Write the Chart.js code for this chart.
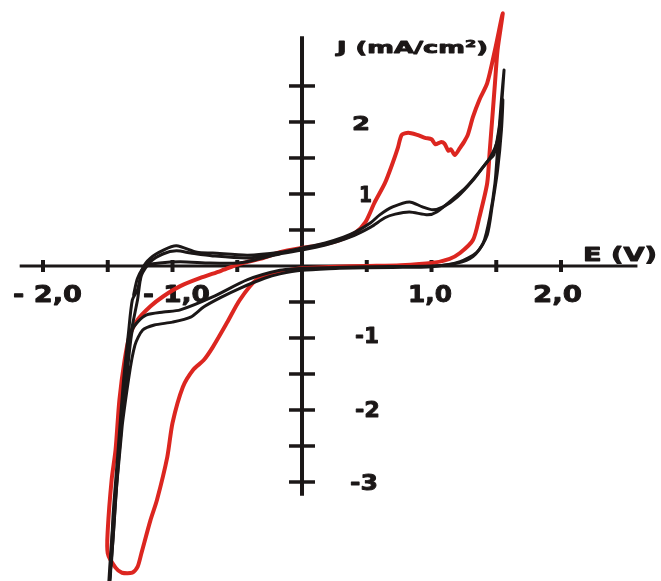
<!DOCTYPE html>
<html>
<head>
<meta charset="utf-8">
<script src="https://cdn.jsdelivr.net/npm/chart.js@4"></script>
<style>
  html, body { margin: 0; padding: 0; background: #fff; }
  canvas { display: block; }
</style>
</head>
<body>
<canvas id="cv" width="661" height="581"></canvas>
<script>
// E (V), J (mA/cm2)
const redE = [0.00, 0.25, 0.50, 0.76, 1.00, 1.14, 1.22, 1.32, 1.37, 1.43, 1.45, 1.47, 1.49, 1.51, 1.55,
  1.49, 1.43, 1.37, 1.32, 1.28, 1.25, 1.22, 1.18, 1.15, 1.13, 1.10, 1.07, 1.03, 1.00, 0.95, 0.89, 0.82, 0.77,
  0.74, 0.70, 0.64, 0.56, 0.49, 0.41, 0.29, 0.14, 0.00, -0.17, -0.30, -0.48, -0.63, -0.79, -0.94, -1.07,
  -1.17, -1.27, -1.33, -1.37, -1.41, -1.44, -1.47, -1.50, -1.50, -1.44, -1.39, -1.31, -1.27, -1.24, -1.17,
  -1.12, -1.04, -1.00, -0.92, -0.84, -0.76, -0.69, -0.58, -0.48, -0.35, -0.17, 0.00];
const redJ = [-0.03, -0.01, 0.00, 0.01, 0.04, 0.10, 0.18, 0.36, 0.68, 1.15, 1.61, 2.07, 2.54, 3.00, 3.51,
  3.00, 2.54, 2.31, 2.07, 1.82, 1.72, 1.64, 1.54, 1.62, 1.60, 1.70, 1.72, 1.69, 1.76, 1.78, 1.82, 1.85, 1.82,
  1.64, 1.43, 1.15, 0.88, 0.61, 0.46, 0.36, 0.29, 0.25, 0.19, 0.11, 0.03, -0.07, -0.17, -0.28, -0.42,
  -0.56, -0.75, -0.96, -1.31, -1.86, -2.56, -2.97, -3.67, -3.99, -4.19, -4.26, -4.26, -4.18, -3.99, -3.53,
  -3.25, -2.65, -2.18, -1.68, -1.44, -1.31, -1.13, -0.79, -0.47, -0.19, -0.08, -0.03];

const blackAE = [0.00, 0.50, 1.00, 1.20, 1.32, 1.40, 1.45, 1.49, 1.51, 1.54, 1.56,
  1.53, 1.48, 1.44, 1.40, 1.32, 1.20, 1.09, 1.01, 0.93, 0.83, 0.70, 0.60, 0.53, 0.41, 0.32, 0.18, 0.00,
  -0.17, -0.42, -0.69, -0.81, -0.97, -1.07, -1.17, -1.23, -1.27, -1.31, -1.34, -1.38, -1.42, -1.46, -1.48, -1.50,
  -1.47, -1.44, -1.39, -1.34, -1.31, -1.27, -1.20, -1.07, -0.94, -0.69, -0.42, -0.17, 0.00];
const blackAJ = [-0.03, -0.01, 0.00, 0.04, 0.13, 0.32, 0.68, 1.15, 1.61, 2.31, 2.72,
  2.03, 1.54, 1.47, 1.38, 1.19, 0.96, 0.82, 0.78, 0.82, 0.89, 0.82, 0.71, 0.60, 0.47, 0.40, 0.32, 0.25,
  0.19, 0.15, 0.18, 0.19, 0.28, 0.22, 0.11, -0.03, -0.33, -0.47, -0.93, -1.63, -2.56, -3.49, -4.32, -4.64,
  -4.08, -3.25, -2.14, -1.31, -0.89, -0.78, -0.68, -0.64, -0.61, -0.43, -0.19, -0.06, -0.03];

const blackBE = [0.29, 0.70, 1.00, 1.22, 1.35, 1.43, 1.47, 1.51, 1.54, 1.55,
  1.51, 1.45, 1.37, 1.27, 1.17, 1.04, 0.97, 0.83, 0.72, 0.64, 0.53, 0.37, 0.18, 0.00,
  -0.17, -0.42, -0.69, -0.86, -0.97, -1.07, -1.17, -1.24, -1.27, -1.33, -1.37, -1.42, -1.47, -1.50,
  -1.46, -1.41, -1.34, -1.29, -1.23, -1.14, -1.00, -0.86, -0.76, -0.63, -0.48, -0.29, -0.17, 0.00, 0.29];
const blackBJ = [-0.03, -0.02, -0.01, 0.06, 0.19, 0.43, 0.85, 1.33, 1.89, 2.31,
  1.75, 1.50, 1.31, 1.10, 0.94, 0.75, 0.71, 0.75, 0.72, 0.67, 0.54, 0.40, 0.29, 0.22,
  0.17, 0.11, 0.14, 0.18, 0.21, 0.17, 0.06, -0.13, -0.47, -1.03, -1.86, -2.83, -3.81, -4.64,
  -3.81, -2.56, -1.58, -1.10, -0.89, -0.82, -0.78, -0.71, -0.57, -0.44, -0.31, -0.17, -0.11, -0.06, -0.03];

const blackCE = [-0.17, -0.35, -0.50, -0.71, -0.94, -1.10, -1.21, -1.27, -1.30];
const blackCJ = [0.17, 0.09, 0.04, 0.04, 0.06, 0.04, 0.00, -0.17, -0.40];

// axis ticks and labels
const xMinorTicks = [-2.0, -1.5, -1.0, -0.5, 0.5, 1.0, 1.5, 2.0];
const yMinorTicks = [2.5, 2.0, 1.5, 1.0, 0.5, -0.5, -1.0, -1.5, -2.0, -2.5, -3.0];
const xTickLabels = ['- 2,0', '- 1,0', '1,0', '2,0'];
const yTickLabels = ['2', '1', '-1', '-2', '-3'];
const xAxisTitle = 'E (V)';
const yAxisTitle = 'J (mA/cm\u00B2)';

const RED = '#dc2620';
const INK = '#1b1717';

function pts(es, js) {
  return es.map((e, i) => ({ x: e, y: js[i] }));
}

// draws heavy bold text squeezed/stretched to a given box
function boxText(ctx, text, left, baseline, cap, width) {
  const size = cap / 0.73;
  ctx.font = 'bold ' + size + 'px "DejaVu Sans"';
  const w = ctx.measureText(text).width;
  ctx.save();
  ctx.translate(left, baseline);
  ctx.scale(width / w, 1);
  ctx.textAlign = 'left';
  ctx.textBaseline = 'alphabetic';
  ctx.fillStyle = INK;
  ctx.strokeStyle = INK;
  ctx.lineWidth = 0.9;
  ctx.lineJoin = 'round';
  ctx.fillText(text, 0, 0);
  ctx.strokeText(text, 0, 0);
  ctx.restore();
}

const axesPlugin = {
  id: 'crossAxes',
  beforeDatasetsDraw(chart) {
    const ctx = chart.ctx;
    const xs = chart.scales.x, ys = chart.scales.y;
    const x0 = xs.getPixelForValue(0), y0 = ys.getPixelForValue(0);
    ctx.save();
    ctx.strokeStyle = INK;
    ctx.lineCap = 'butt';

    // E axis
    ctx.lineWidth = 3;
    ctx.beginPath();
    ctx.moveTo(xs.getPixelForValue(-2.18), y0);
    ctx.lineTo(xs.getPixelForValue(2.59), y0);
    ctx.stroke();
    // J axis
    ctx.lineWidth = 4;
    ctx.beginPath();
    ctx.moveTo(x0, ys.getPixelForValue(3.19));
    ctx.lineTo(x0, ys.getPixelForValue(-3.19));
    ctx.stroke();

    ctx.lineWidth = 4;
    xMinorTicks.forEach(v => {
      const px = xs.getPixelForValue(v);
      ctx.beginPath();
      ctx.moveTo(px, y0 - 6);
      ctx.lineTo(px, y0 + 6);
      ctx.stroke();
    });
    ctx.lineWidth = 3.5;
    yMinorTicks.forEach(v => {
      const py = ys.getPixelForValue(v);
      ctx.beginPath();
      ctx.moveTo(x0 - 13, py);
      ctx.lineTo(x0 + 13, py);
      ctx.stroke();
    });

    // tick labels
    boxText(ctx, xTickLabels[0], 13, 302, 17, 69);
    boxText(ctx, xTickLabels[1], 143, 302, 17, 67);
    boxText(ctx, xTickLabels[2], 408, 302, 17, 44);
    boxText(ctx, xTickLabels[3], 533, 302, 17, 49);

    boxText(ctx, yTickLabels[0], 352, 130, 14, 18);
    boxText(ctx, yTickLabels[1], 359, 202, 15, 13);
    boxText(ctx, yTickLabels[2], 355, 343, 16, 24);
    boxText(ctx, yTickLabels[3], 355, 417, 16, 25);
    boxText(ctx, yTickLabels[4], 350, 490, 16, 28);

    boxText(ctx, xAxisTitle, 583, 261, 14, 74);
    boxText(ctx, yAxisTitle, 337, 53, 12, 151);
    ctx.restore();
  }
};

const lineSet = (data, color, width) => ({
  data: data,
  showLine: true,
  borderColor: color,
  borderWidth: width,
  pointRadius: 0,
  fill: false,
  tension: 0.25,
  borderJoinStyle: 'round',
  borderCapStyle: 'round'
});

new Chart(document.getElementById('cv'), {
  type: 'scatter',
  data: {
    datasets: [
      lineSet(pts(blackCE, blackCJ), INK, 3),
      lineSet(pts(blackBE, blackBJ), INK, 3),
      lineSet(pts(blackAE, blackAJ), INK, 3),
      lineSet(pts(redE, redJ), RED, 4)
    ]
  },
  options: {
    responsive: false,
    devicePixelRatio: 1,
    animation: false,
    layout: { padding: 0 },
    plugins: { legend: { display: false }, tooltip: { enabled: false } },
    scales: {
      x: { type: 'linear', min: -2.332, max: 2.772, display: false },
      y: { type: 'linear', min: -4.375, max: 3.694, display: false }
    }
  },
  plugins: [axesPlugin]
});
</script>
</body>
</html>
